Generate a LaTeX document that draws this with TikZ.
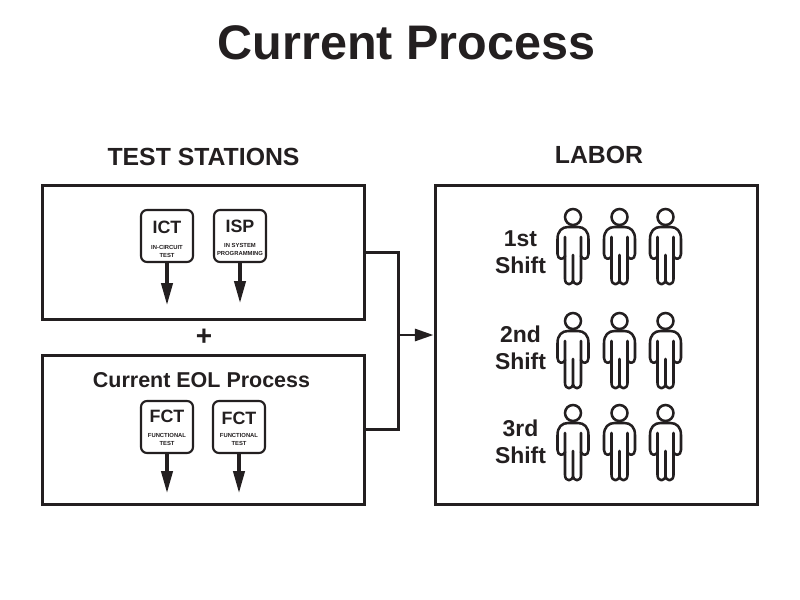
\documentclass[tikz,border=0pt]{standalone}
\usepackage{fontspec}
\setmainfont{Liberation Sans}
\usetikzlibrary{arrows.meta}
\definecolor{inkblack}{RGB}{35,31,32}
\tikzset{
  framebox/.style={draw=inkblack, line width=2.25pt, minimum width=241.5pt, inner sep=0pt},
  tilebox/.style={draw=inkblack, line width=1.6pt, rounded corners=4.5pt, minimum width=39pt, minimum height=39pt, inner sep=0pt, fill=white},
  wire/.style={draw=inkblack, line width=2.25pt},
  tilearrow/.style={draw=inkblack, line width=2.4pt, -{Triangle[length=16.5pt,width=8.5pt]}},
  feedarrow/.style={draw=inkblack, line width=2.2pt, -{Triangle[length=14pt,width=9pt]}},
  headtext/.style={text=inkblack, font=\bfseries\fontsize{18.6}{22}\selectfont},
  shifttext/.style={text=inkblack, align=center, font=\bfseries\fontsize{17.2}{20}\selectfont},
  tiletext/.style={text=inkblack, font=\bfseries\fontsize{13.4}{15}\selectfont},
  finetext/.style={text=inkblack, align=center, font=\bfseries\fontsize{4.4}{6}\selectfont},
  person/.pic={
    \draw [draw=inkblack, line width=1.9pt] (0,0) circle [radius=8];
    \draw [draw=inkblack, line width=1.9pt, line join=round, line cap=round]
      (-8,20) -- (-8,39) .. controls (-9,43) and (-15.5,43) .. (-15.5,37) -- (-15.5,22)
      .. controls (-15.5,14) and (-11,10) .. (-5,10) -- (5,10)
      .. controls (11,10) and (15.5,14) .. (15.5,22) -- (15.5,37)
      .. controls (15.5,43) and (9,43) .. (8,39) -- (8,20);
    \draw [draw=inkblack, line width=1.9pt, line join=round, line cap=round]
      (-8,39) -- (-8,62) .. controls (-8,69) and (0,69) .. (0,62) -- (0,38)
      (0,62) .. controls (0,69) and (8,69) .. (8,62) -- (8,39);
  }
}
\begin{document}
\begin{tikzpicture}[x=0.75pt,y=0.75pt,yscale=-1,xscale=1]
\useasboundingbox (0,0) rectangle (800,600);

% Frames
\node [framebox, minimum height=100.5pt] (stationbox) at (203,252) {};
\node [framebox, minimum height=111.75pt] (eolbox) at (203,429.5) {};
\node [framebox, minimum height=239.25pt] (laborbox) at (596,344.5) {};

% Tile arrows
\coordinate (ictend) at (167,305);
\coordinate (ispend) at (240,303);
\coordinate (fctenda) at (167,493);
\coordinate (fctendb) at (239,493);
\node [tilebox] (ictbox) at (167,236) {};
\node [tilebox] (ispbox) at (240,236) {};
\node [tilebox] (fctboxa) at (167,427) {};
\node [tilebox] (fctboxb) at (239,427) {};
\draw [tilearrow] (ictbox) -- (ictend);
\draw [tilearrow] (ispbox) -- (ispend);
\draw [tilearrow] (fctboxa) -- (fctenda);
\draw [tilearrow] (fctboxb) -- (fctendb);

% Connectors
\coordinate (joinpoint) at (398,335);
\coordinate (laborpoint) at (laborbox.west |- joinpoint);
\draw [wire] (stationbox.east) -| (joinpoint);
\draw [wire] (eolbox.east) -| (joinpoint);
\draw [feedarrow] (joinpoint) -- (laborpoint);

% Text Node
\node [text=inkblack, font=\bfseries\fontsize{36.4}{40}\selectfont] (titletext) at (406.5,43) {Current Process};
\node [headtext] (stationtext) at (203.5,157) {TEST STATIONS};
\node [headtext] (labortext) at (599,155) {LABOR};
\node [text=inkblack, font=\bfseries\fontsize{21}{24}\selectfont] (plustext) at (204,337) {+};
\node [text=inkblack, font=\bfseries\fontsize{16.1}{19}\selectfont] (eoltext) at (201.5,380) {Current EOL Process};

% Tile text
\node [tiletext] (icttext) at (167,227.5) {ICT};
\node [finetext] (ictfine) at (167,251) {IN-CIRCUIT\\TEST};
\node [tiletext] (isptext) at (240,226.5) {ISP};
\node [finetext] (ispfine) at (240,249) {IN SYSTEM\\PROGRAMMING};
\node [tiletext] (fcttexta) at (167,416.5) {FCT};
\node [finetext] (fctfinea) at (167,439.5) {FUNCTIONAL\\TEST};
\node [tiletext] (fcttextb) at (239,418.5) {FCT};
\node [finetext] (fctfineb) at (239,439.5) {FUNCTIONAL\\TEST};

% Shift text
\node [shifttext] (firsttext) at (520.5,252.5) {1st\\Shift};
\node [shifttext] (secondtext) at (520.5,348) {2nd\\Shift};
\node [shifttext] (thirdtext) at (520.5,441.5) {3rd\\Shift};

% People
\pic [transform shape] at (573,217) {person};
\pic [transform shape] at (619.5,217) {person};
\pic [transform shape] at (665.5,217) {person};
\pic [transform shape] at (573,321) {person};
\pic [transform shape] at (619.5,321) {person};
\pic [transform shape] at (665.5,321) {person};
\pic [transform shape] at (573,413) {person};
\pic [transform shape] at (619.5,413) {person};
\pic [transform shape] at (665.5,413) {person};

\end{tikzpicture}
\end{document}
